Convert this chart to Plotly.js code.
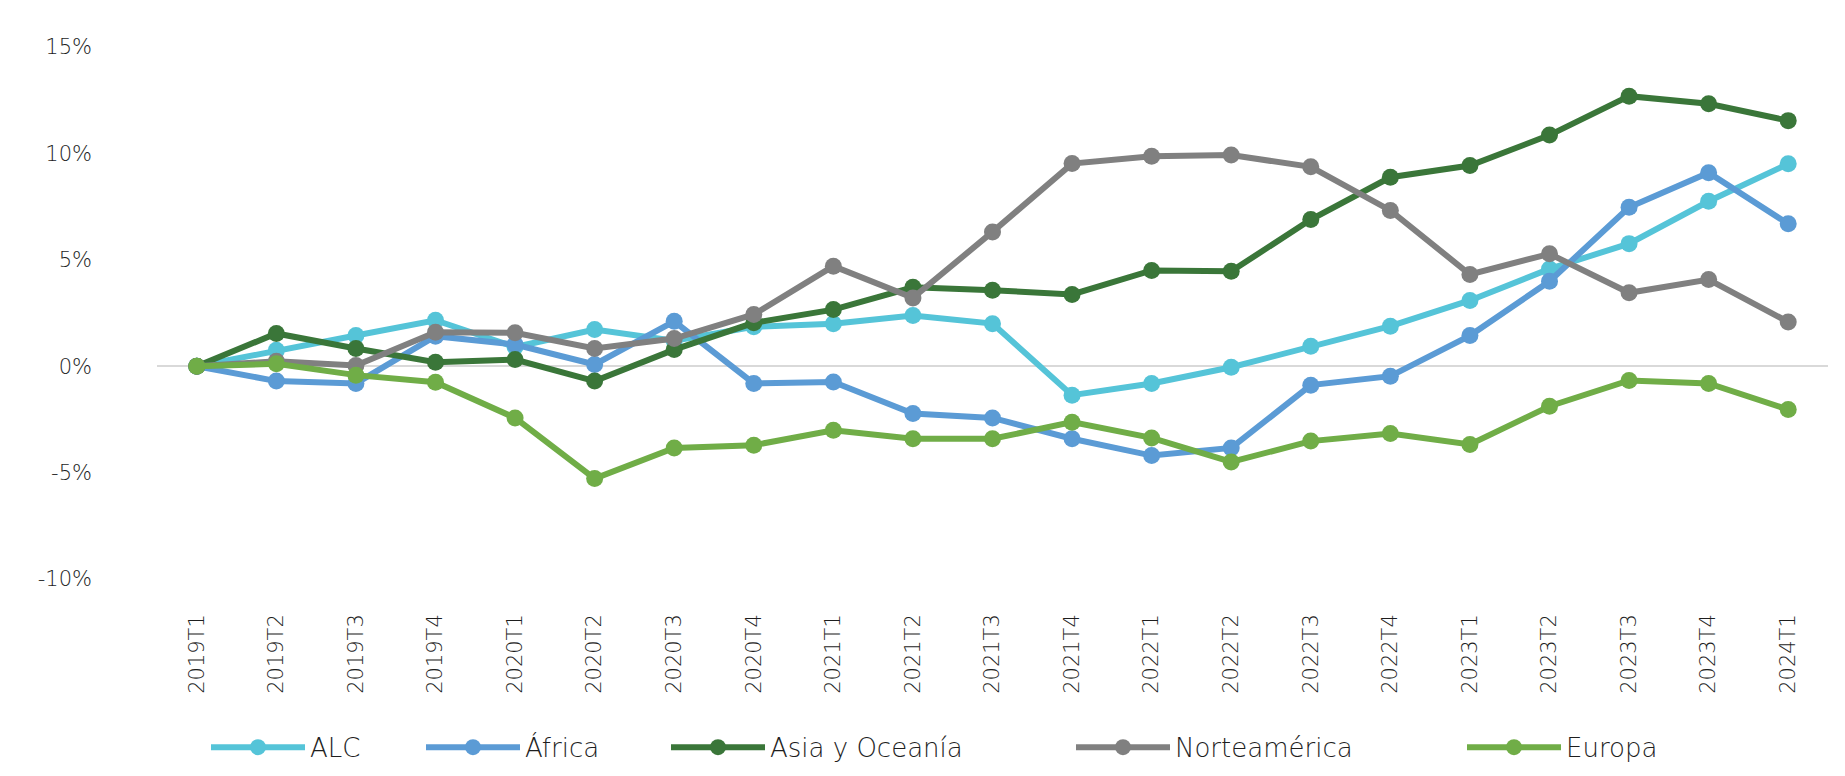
<!DOCTYPE html>
<html>
<head>
<meta charset="utf-8">
<script src="https://cdn.plot.ly/plotly-3.0.1.min.js"></script>
<style>
html, body { margin: 0; padding: 0; background: #ffffff; }
#chart { width: 1845px; height: 776px; }
</style>
</head>
<body>
<div id="chart"></div>
<script>
const categories = ['2019T1','2019T2','2019T3','2019T4','2020T1','2020T2','2020T3','2020T4','2021T1','2021T2','2021T3','2021T4','2022T1','2022T2','2022T3','2022T4','2023T1','2023T2','2023T3','2023T4','2024T1'];

const seriesNames = ['ALC', 'África', 'Asia y Oceanía', 'Norteamérica', 'Europa'];

const alc = [0, 0.75, 1.44, 2.16, 0.9, 1.72, 1.2, 1.85, 2.0, 2.38, 2.0, -1.36, -0.81, -0.05, 0.94, 1.88, 3.09, 4.57, 5.76, 7.75, 9.51];
const africa = [0, -0.70, -0.81, 1.41, 1.02, 0.08, 2.11, -0.81, -0.74, -2.22, -2.43, -3.41, -4.20, -3.84, -0.89, -0.47, 1.44, 3.99, 7.47, 9.09, 6.69];
const asiaOceania = [0, 1.54, 0.83, 0.19, 0.31, -0.70, 0.78, 2.04, 2.66, 3.71, 3.57, 3.37, 4.50, 4.46, 6.89, 8.88, 9.43, 10.86, 12.69, 12.33, 11.54];
const norteamerica = [0, 0.23, 0.03, 1.60, 1.57, 0.83, 1.30, 2.43, 4.70, 3.21, 6.31, 9.52, 9.87, 9.92, 9.37, 7.32, 4.31, 5.28, 3.45, 4.07, 2.08];
const europa = [0, 0.11, -0.42, -0.75, -2.43, -5.28, -3.84, -3.71, -3.01, -3.41, -3.41, -2.63, -3.37, -4.50, -3.52, -3.16, -3.68, -1.88, -0.67, -0.81, -2.04];

const yTickVals = [-10, -5, 0, 5, 10, 15];
const yTickText = ['-10%', '-5%', '0%', '5%', '10%', '15%'];

const colors = ['#55C4D8', '#5B9BD5', '#3A7639', '#808080', '#70AD47'];
const allValues = [alc, africa, asiaOceania, norteamerica, europa];

// legend entry left positions (pixels in the 1845-wide page)
const legendLeftPx = [206, 421, 666, 1071, 1462];

const FONT = 'DejaVu Sans, sans-serif';
const TEXT_COLOR = '#1e1e1e';

const legendIds = ['legend', 'legend2', 'legend3', 'legend4', 'legend5'];

const traces = allValues.map((vals, i) => ({
  type: 'scatter',
  mode: 'lines+markers',
  name: seriesNames[i],
  legend: legendIds[i],
  x: categories,
  y: vals,
  line: { color: colors[i], width: 6 },
  marker: { color: colors[i], size: 17, line: { width: 0 } },
  hoverinfo: 'x+y+name'
}));

const layout = {
  width: 1845,
  height: 776,
  paper_bgcolor: '#ffffff',
  plot_bgcolor: '#ffffff',
  margin: { l: 157, r: 17, t: 47, b: 197 },
  font: { family: FONT, color: TEXT_COLOR, size: 21, weight: 200 },
  showlegend: true,
  xaxis: {
    type: 'category',
    range: [-0.5, 20.5],
    showgrid: false,
    zeroline: false,
    showline: false,
    ticks: '',
    tickangle: -90,
    ticklabelstandoff: 30,
    tickfont: { family: FONT, size: 21, color: TEXT_COLOR, weight: 200 }
  },
  yaxis: {
    range: [-10, 15],
    tickvals: yTickVals,
    ticktext: yTickText,
    showgrid: false,
    zeroline: true,
    zerolinecolor: '#D9D9D9',
    zerolinewidth: 2,
    showline: false,
    ticks: '',
    ticklabelstandoff: 64,
    tickfont: { family: FONT, size: 21, color: TEXT_COLOR, weight: 200 }
  }
};

legendIds.forEach((id, i) => {
  layout[id] = {
    orientation: 'h',
    xref: 'container', yref: 'container',
    x: legendLeftPx[i] / 1845, xanchor: 'left',
    y: 0.037, yanchor: 'middle',
    font: { family: FONT, size: 26, color: TEXT_COLOR, weight: 200 },
    itemwidth: 94,
    bgcolor: 'rgba(0,0,0,0)'
  };
});

Plotly.newPlot('chart', traces, layout, { displayModeBar: false, responsive: false });
</script>
</body>
</html>
